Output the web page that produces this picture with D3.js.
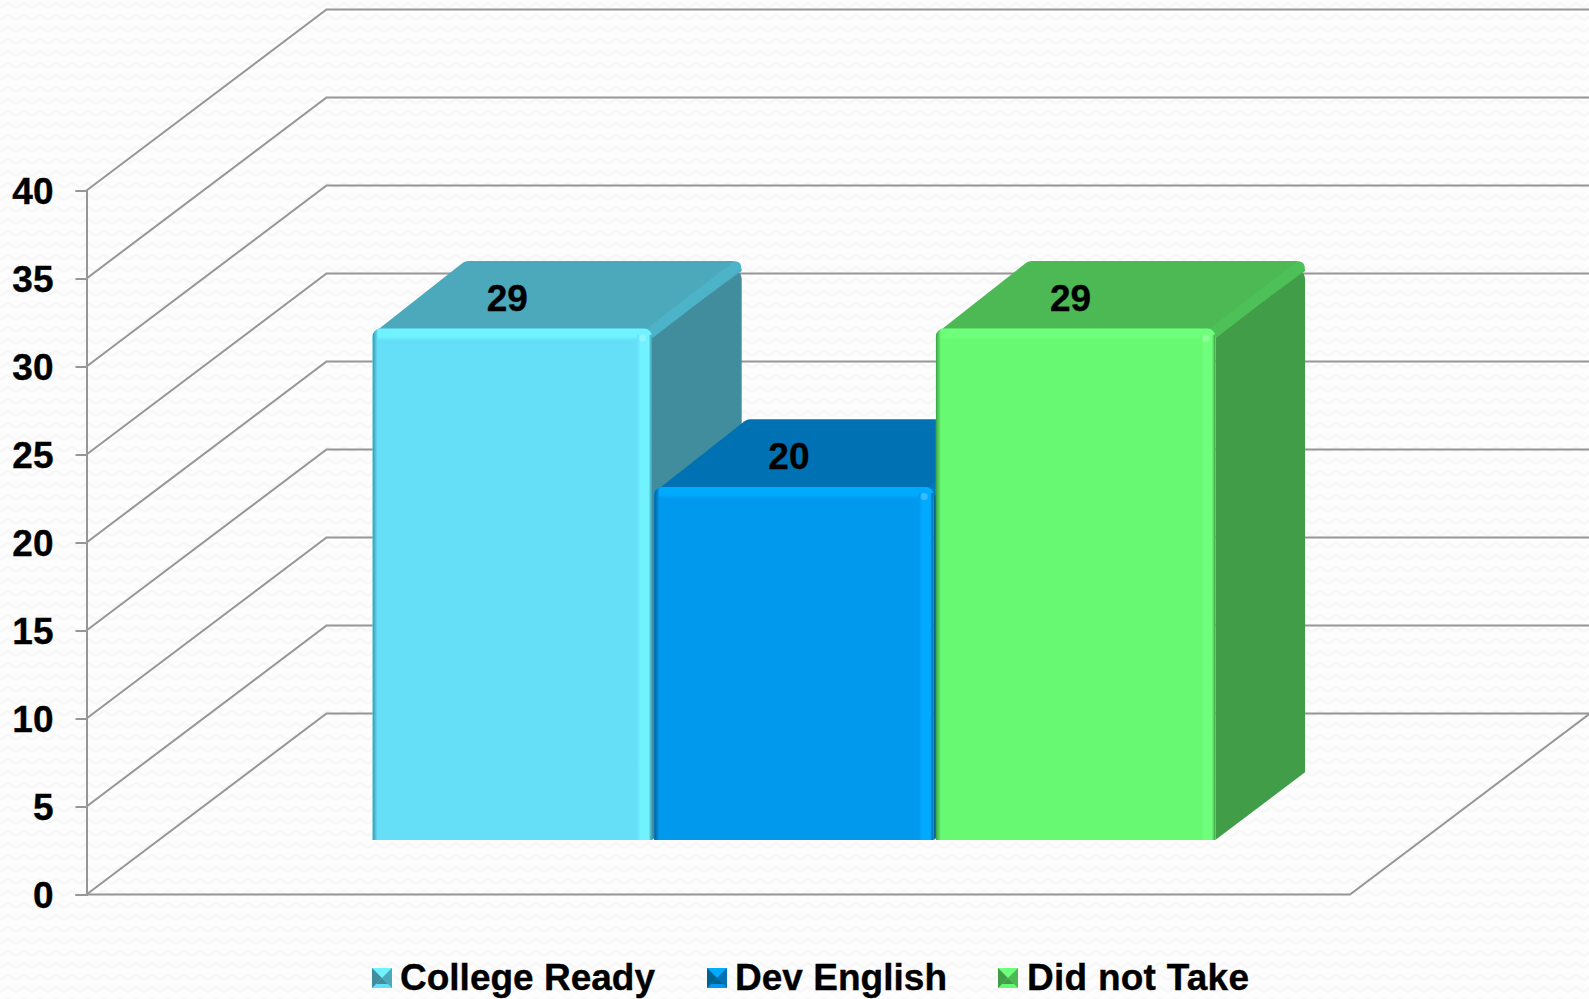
<!DOCTYPE html>
<html><head><meta charset="utf-8">
<script src="https://cdn.jsdelivr.net/npm/d3@7"></script>
<style>
html,body{margin:0;padding:0;background:#fdfdfd;overflow:hidden}
svg{display:block}
text{font-family:"Liberation Sans",Arial,sans-serif;font-weight:bold;fill:#000;stroke:#000;stroke-width:0.35px}
</style></head><body>
<script>
const seriesNames = ["College Ready", "Dev English", "Did not Take"];
const seriesValues = [29, 20, 29];
const yTicks = [0, 5, 10, 15, 20, 25, 30, 35, 40];
const frontColors = ["#65DFF7", "#0099EE", "#66F971"];
const topColors = ["#4CA9BC", "#0071B2", "#4CB955"];
const sideColors = ["#418C9D", "#00628F", "#429D48"];
const edgeColors = ["#4DB3C8", "#0079BC", "#4DC058"];
const lightColors = ["#70F2FF", "#00AAFF", "#70FF7C"];
const shadowColors = ["#3A96AB", "#005E95", "#3D9E46"];
const legendSwatchX = [372, 707, 998];
const legendTextX = [400, 735, 1027];
const legendTextLen = [255, 212, 222];

const W = 1589, H = 999;
const svg = d3.select("body").append("svg").attr("width", W).attr("height", H);
const defs = svg.append("defs");

const pat = defs.append("pattern").attr("id", "bg").attr("width", 16).attr("height", 12)
  .attr("patternUnits", "userSpaceOnUse");
pat.append("rect").attr("width", 16).attr("height", 12).attr("fill", "#fdfdfd");
pat.append("path").attr("d", "M0 8L8 3L16 8").attr("fill", "none").attr("stroke", "#f7f7f7").attr("stroke-width", 2.5);
svg.append("rect").attr("width", W).attr("height", H).attr("fill", "url(#bg)");

const y = d3.scaleLinear().domain([0, 40]).range([894.5, 190.5]);
const floorX = d3.scaleLinear().domain([0, 1]).range([86.5, 1350]);
const depthX = d3.scaleLinear().domain([0, 1]).range([0, 240]);
const depthY = d3.scaleLinear().domain([0, 1]).range([0, -181]);
const band = d3.scaleBand().domain(seriesNames)
  .range([floorX(0.1692), floorX(0.8362)]).paddingInner(0.008);

const GRID = "#969696";
const grid = svg.append("g").attr("fill", "none").attr("stroke", GRID).attr("stroke-width", 2);
const line = d3.line();
yTicks.forEach(t => {
  grid.append("path").attr("d", line([
    [floorX(0), y(t)],
    [floorX(0) + depthX(1), y(t) + depthY(1)],
    [W, y(t) + depthY(1)]
  ]));
});
grid.append("path").attr("d", line([
  [floorX(0), y(0)], [floorX(1), y(0)], [floorX(1) + depthX(1), y(0) + depthY(1)]
]));

const axis = d3.axisLeft(y).tickValues(yTicks).tickSize(11).tickPadding(22);
const axG = svg.append("g").attr("transform", `translate(${floorX(0)},0)`).call(axis);
axG.selectAll("path,line").attr("stroke", GRID).attr("stroke-width", 2);
axG.selectAll("text").attr("font-size", 37).attr("fill", "#000")
  .style("font-family", '"Liberation Sans",Arial,sans-serif').style("font-weight", "bold")
  .attr("dy", 13);

function rounded(points, radii) {
  const p = d3.path();
  const n = points.length;
  const first = points[0];
  p.moveTo(first[0], first[1]);
  for (let i = 1; i <= n; i++) {
    const c = points[i % n], nx = points[(i + 1) % n], r = radii[i % n];
    if (r > 0) p.arcTo(c[0], c[1], nx[0], nx[1], r); else p.lineTo(c[0], c[1]);
  }
  p.closePath();
  return p.toString();
}
function grad(id, dir, stops) {
  const g = defs.append("linearGradient").attr("id", id)
    .attr("x1", dir[0]).attr("y1", dir[1]).attr("x2", dir[2]).attr("y2", dir[3]);
  stops.forEach(s => g.append("stop").attr("offset", s[0]).attr("stop-color", s[1]));
}

const FRONT = 0.301, DEPTH = 0.374;
const offX = depthX(FRONT), offY = depthY(FRONT);
const backX = depthX(DEPTH), backY = depthY(DEPTH);

seriesNames.forEach((name, i) => {
  const x0 = band(name) + offX, x1 = x0 + band.bandwidth();
  const base = y(0) + offY, top = y(seriesValues[i]) + offY - 1;
  const g = svg.append("g");
  grad("L" + i, ["0", "0", "1", "0"], [[0, shadowColors[i]], [1, frontColors[i]]]);
  grad("R" + i, ["0", "0", "1", "0"], [[0, frontColors[i]], [0.25, lightColors[i]], [0.78, lightColors[i]], [1, shadowColors[i]]]);
  grad("T" + i, ["0", "0", "0", "1"], [[0, lightColors[i]], [0.65, lightColors[i]], [1, frontColors[i]]]);

  g.append("path").attr("fill", sideColors[i]).attr("d", rounded([
    [x1, top], [x1 + backX, top + backY], [x1 + backX, base + backY], [x1, base]
  ], [0, 9, 0, 0]));
  g.append("path").attr("fill", topColors[i]).attr("d", rounded([
    [x0 + 3, top + 3], [x0 + backX + 3, top + backY], [x1 + backX, top + backY], [x1 + backX, top + backY + 10], [x1, top + 8]
  ], [0, 9, 9, 0, 0]));
  g.append("line").attr("stroke", edgeColors[i]).attr("stroke-width", 11).attr("stroke-linecap", "round")
    .attr("x1", x1 - 4).attr("y1", top + 6)
    .attr("x2", x1 + backX - 6).attr("y2", top + backY + 6);
  // front
  const fp = rounded([[x0, base], [x0, top], [x1, top], [x1, base]], [0, 8, 8, 0]);
  g.append("path").attr("fill", frontColors[i]).attr("d", fp);
  const cid = "clip" + i;
  defs.append("clipPath").attr("id", cid).append("path").attr("d", fp);
  const f = g.append("g").attr("clip-path", `url(#${cid})`);
  f.append("rect").attr("x", x0).attr("y", top).attr("width", x1 - x0).attr("height", 12).attr("fill", `url(#T${i})`);
  f.append("rect").attr("x", x0).attr("y", top).attr("width", 5).attr("height", base - top).attr("fill", `url(#L${i})`);
  f.append("rect").attr("x", x1 - 15).attr("y", top + 6).attr("width", 15).attr("height", base - top - 6).attr("fill", `url(#R${i})`);
  f.append("rect").attr("x", x1 - 13).attr("y", top + 6).attr("width", 7).attr("height", 7).attr("rx", 3).attr("fill", "#fff").attr("fill-opacity", 0.22);

  svg.append("text").attr("x", (x0 + x1) / 2 - 5).attr("y", top - 18)
    .attr("text-anchor", "middle").attr("font-size", 37).text(seriesValues[i]);

  // legend swatch: bevelled pyramid
  const sx = legendSwatchX[i], sy = 968, s = 20, b = 4;
  const leg = svg.append("g");
  const tri = (a, c, col) => leg.append("path").attr("fill", col)
    .attr("d", line([a, c, [sx + s / 2, sy + s / 2]]) + "Z");
  leg.append("rect").attr("x", sx).attr("y", sy).attr("width", s).attr("height", s).attr("fill", frontColors[i]);
  tri([sx, sy], [sx + s, sy], lightColors[i]);
  tri([sx + s, sy], [sx + s, sy + s], topColors[i]);
  tri([sx, sy], [sx, sy + s], sideColors[i]);
  tri([sx + b, sy + s - b], [sx + s - b, sy + s - b], sideColors[i]);
  svg.append("text").attr("x", legendTextX[i]).attr("y", 990).attr("font-size", 37)
    .attr("textLength", legendTextLen[i]).attr("lengthAdjust", "spacing").text(name);
});
</script>
</body></html>
